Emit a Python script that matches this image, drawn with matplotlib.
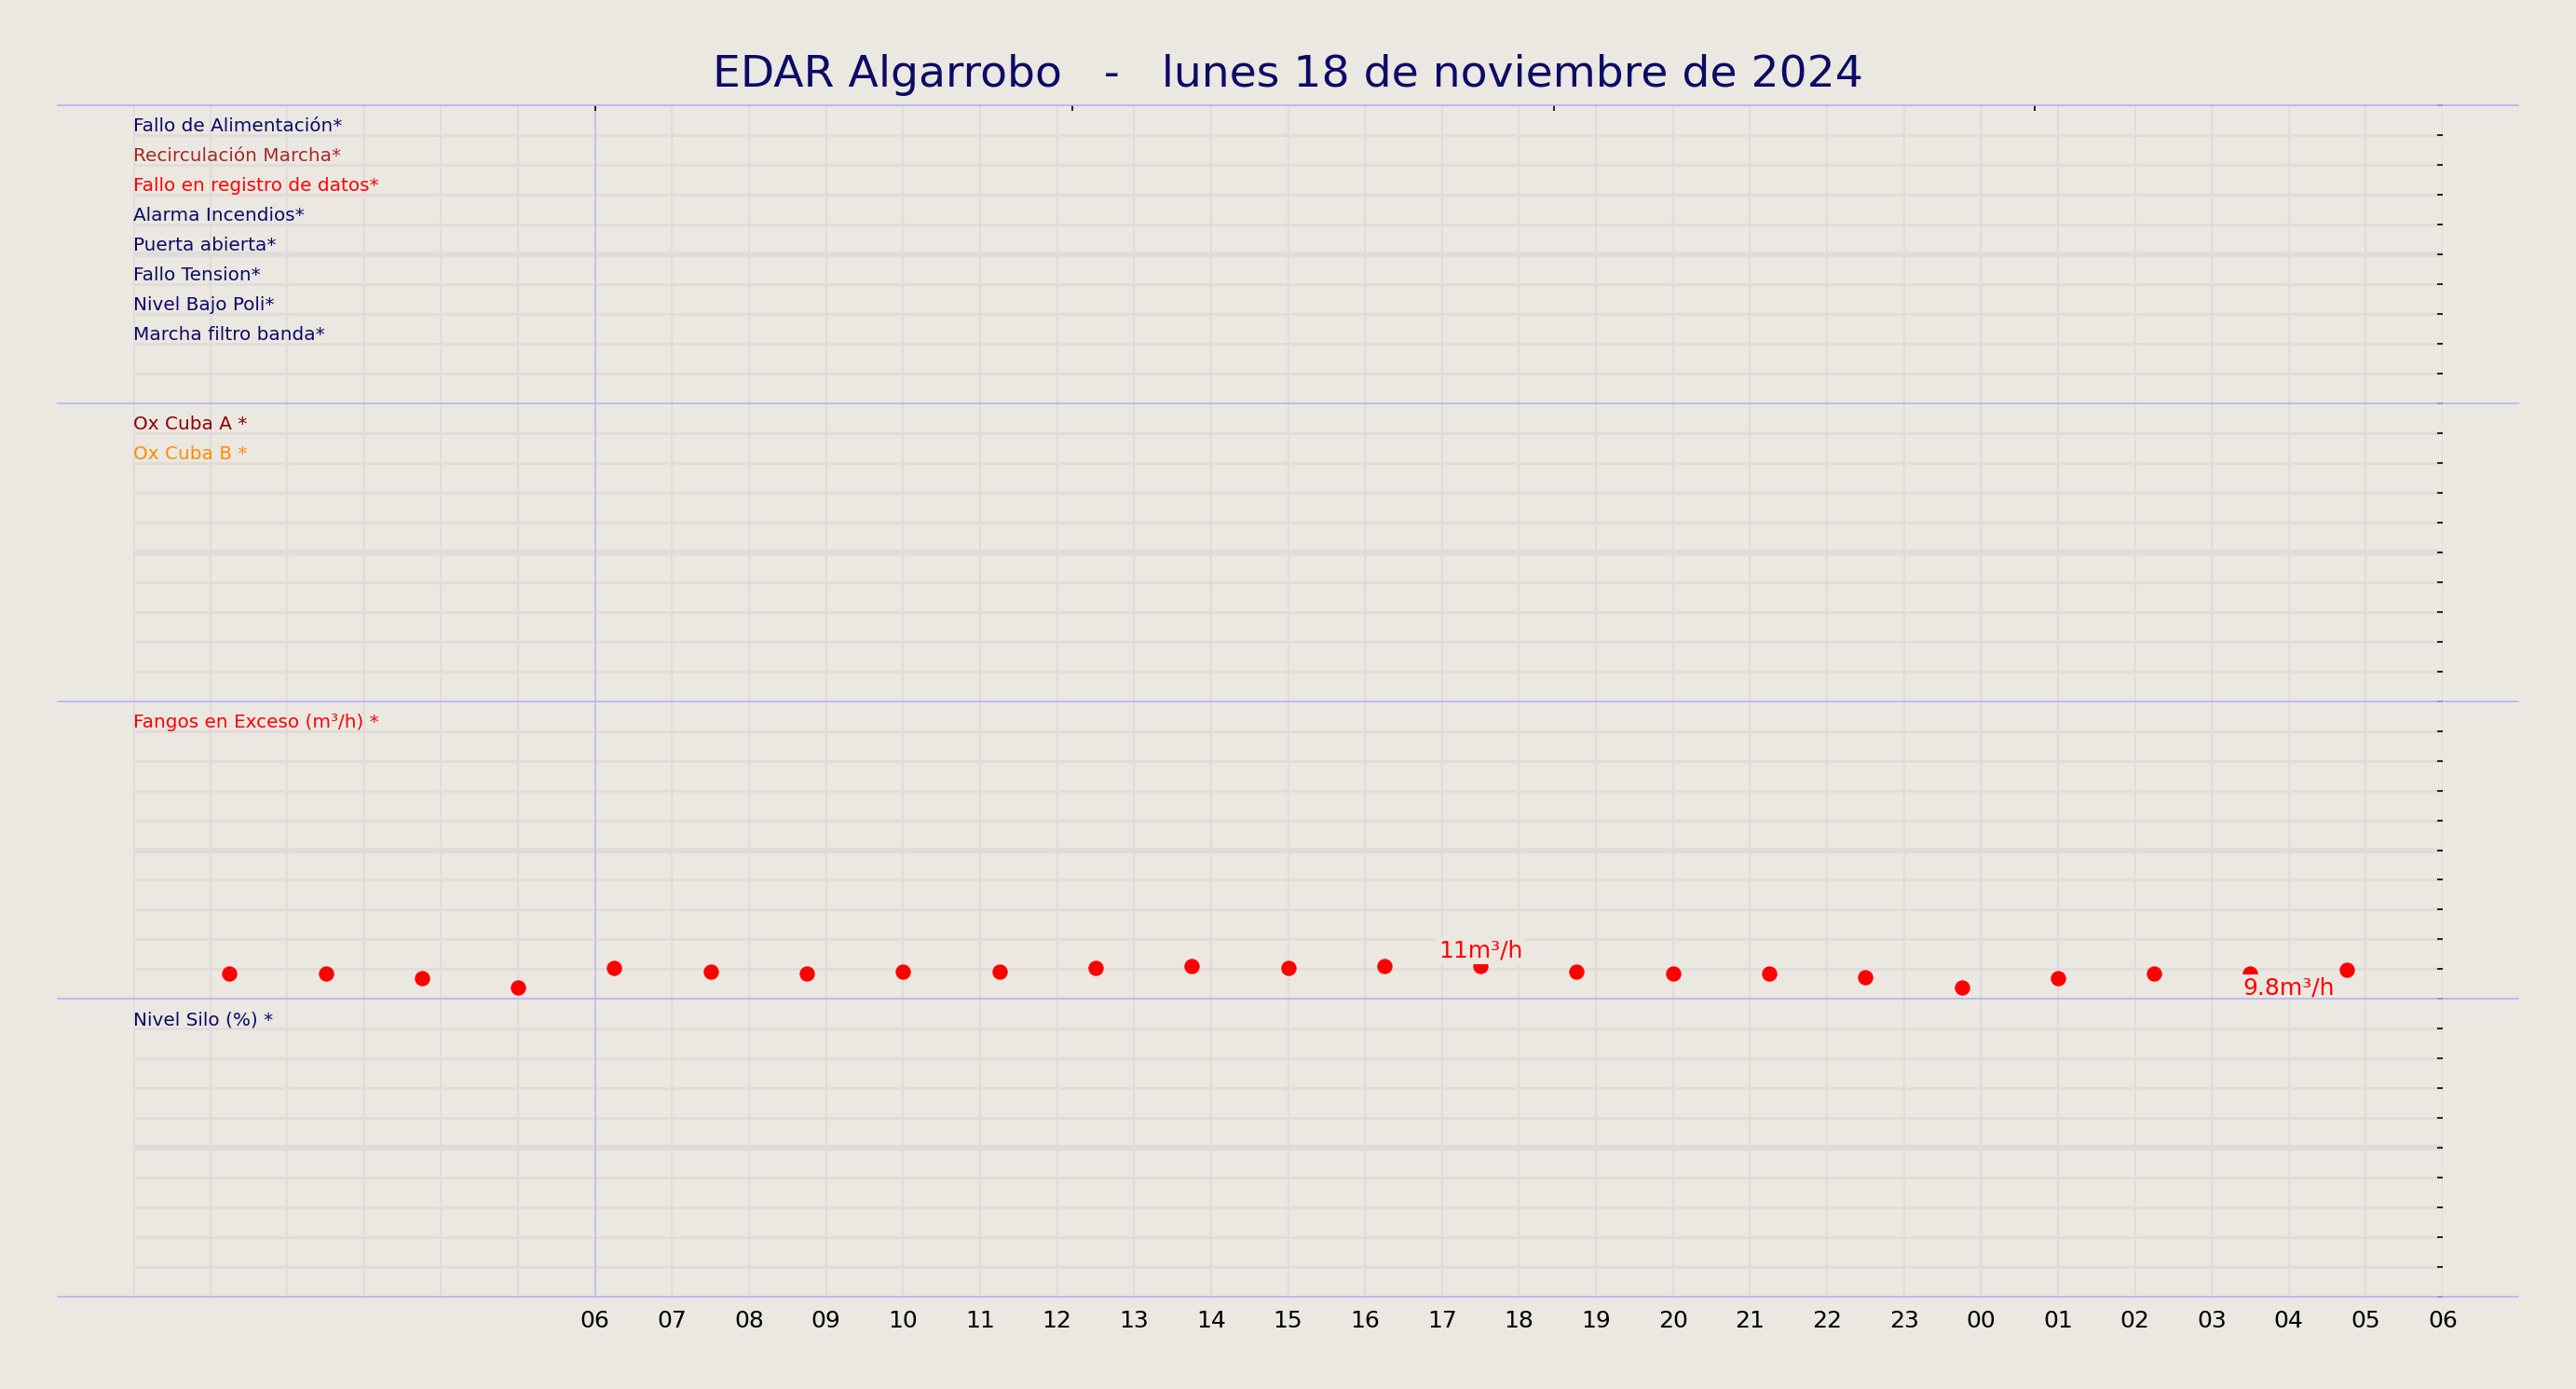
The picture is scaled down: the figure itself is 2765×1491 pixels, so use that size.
import numpy as np
import matplotlib.pyplot as plt
from matplotlib.lines import Line2D

BG = '#ebe7e1'
GRID = '#e1dcda'
NAVY = '#0b0b66'

title = 'EDAR Algarrobo   -   lunes 18 de noviembre de 2024'
panel_labels = [
    [('Fallo de Alimentación*', NAVY), ('Recirculación Marcha*', '#a52a2a'),
     ('Fallo en registro de datos*', 'red'), ('Alarma Incendios*', NAVY),
     ('Puerta abierta*', NAVY), ('Fallo Tension*', NAVY),
     ('Nivel Bajo Poli*', NAVY), ('Marcha filtro banda*', NAVY)],
    [('Ox Cuba A *', '#8b0000'), ('Ox Cuba B *', 'darkorange')],
    [('Fangos en Exceso (m³/h) *', 'red')],
    [('Nivel Silo (%) *', NAVY)],
]

# hours since 00:00 of the day
fangos_h = [1.25 * k for k in range(1, 24)]
fangos_v = [10.6, 10.6, 10.3, 9.8, 10.9, 10.7, 10.6, 10.7, 10.7, 10.9, 11.0, 10.9,
            11.0, 11.0, 10.7, 10.6, 10.6, 10.4, 9.8, 10.3, 10.6, 10.6, 10.8]
xtick_h = list(range(6, 31))
xtick_lbl = ['%02d' % (h % 24) for h in xtick_h]

fig = plt.figure(figsize=(13.825, 7.455), dpi=200, facecolor=BG)
gs = fig.add_gridspec(4, 1, left=0.0517, right=0.9483, bottom=0.0662, top=0.9243, hspace=0)
axes = [fig.add_subplot(gs[i]) for i in range(4)]

for i, ax in enumerate(axes):
    ax.set_facecolor(BG)
    ax.set_xlim(0, 30)
    if i == 2:
        lo, hi = 9.15, 25.9
    else:
        lo, hi = 0, 10
    ax.set_ylim(lo, hi)
    yt = np.linspace(lo, hi, 11)
    ax.set_yticks(yt)
    ax.set_yticklabels([])
    ax.yaxis.set_ticks_position('right')
    ax.tick_params(axis='y', length=2, width=0.6, direction='in', pad=0)
    for j, y in enumerate(yt[1:-1], 1):
        ax.axhline(y, color=GRID, lw=2.2 if j == 5 else 1.0, zorder=0)
    for h in range(1, 30):
        ax.axvline(h, color=GRID, lw=0.8, zorder=0)
    ax.axvline(0, color=GRID, lw=1, zorder=0)
    ax.axvline(30, color=GRID, lw=1, zorder=0)
    ax.axvline(6, color='#c4c4f0', lw=0.7, zorder=1)
    for s in ax.spines.values():
        s.set_visible(False)
    for j, (txt, col) in enumerate(panel_labels[i]):
        ax.text(0, 0.9 - j * 0.1, txt, color=col, fontsize=7.2,
                transform=ax.transAxes, va='bottom', ha='left')
    if i < 3:
        ax.set_xticks([])
    else:
        ax.set_xticks(xtick_h)
        ax.set_xticklabels(xtick_lbl, fontsize=9)
        ax.tick_params(axis='x', length=0, pad=5)

axes[0].xaxis.set_ticks_position('top')
axes[0].set_xticks([6, 12.2, 18.45, 24.7])
axes[0].set_xticklabels([])
axes[0].tick_params(axis='x', length=2, width=0.6, direction='in')

ax = axes[2]
ax.scatter(fangos_h, fangos_v, s=24, color='red', zorder=3)
bb = dict(facecolor=BG, edgecolor='none', pad=1)
ax.text(17.5, 11.25, '11m³/h', color='red', fontsize=9, ha='center', va='bottom', bbox=bb, zorder=4)
ax.text(28.0, 9.75, '9.8m³/h', color='red', fontsize=9, ha='center', va='center', bbox=bb, zorder=4)

for y in [0.9243, 0.7098, 0.4953, 0.2808, 0.0662]:
    fig.add_artist(Line2D([0.0223, 0.9777], [y, y], color='#b4b4f2', lw=0.6))

fig.text(0.5, 0.946, title, color=NAVY, fontsize=17, ha='center', va='center')
fig.savefig('out.png', dpi=200, facecolor=BG)
